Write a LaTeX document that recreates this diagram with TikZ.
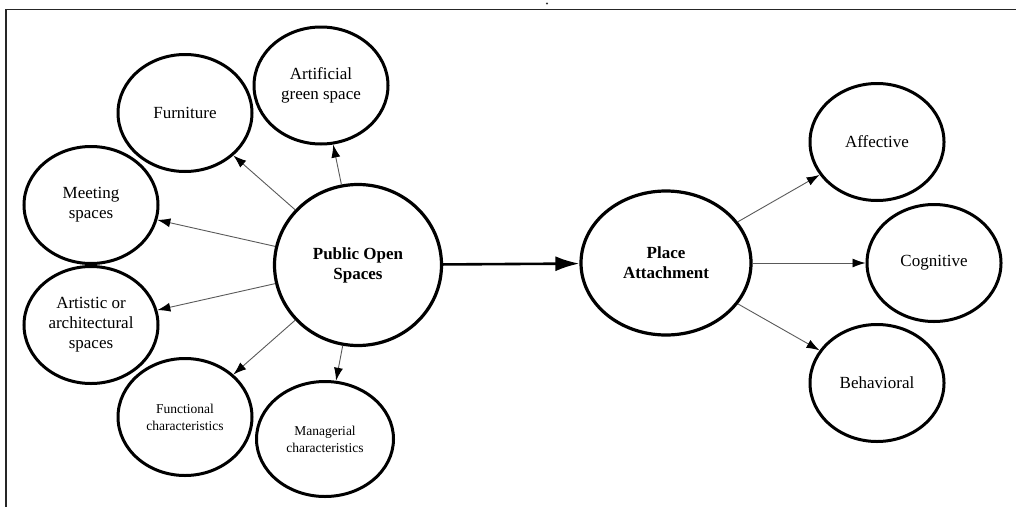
\documentclass[tikz,border=0pt]{standalone}
\usepackage{fontspec}
\setmainfont{Liberation Serif}
\usetikzlibrary{shapes.geometric,arrows.meta}

\tikzset{
  bubble/.style={ellipse, draw=black, line width=3pt, fill=white,
    minimum width=134pt, minimum height=117pt, inner sep=0pt, align=center,
    font=\fontsize{17}{20}\selectfont},
  smalltext/.style={font=\fontsize{13.5}{17}\selectfont},
  hub/.style={bubble, line width=3.2pt, font=\fontsize{17}{20}\selectfont\bfseries},
  link/.style={draw=black!65, line width=0.9pt,
    -{Latex[length=13pt,width=9pt,color=black]}},
  mainlink/.style={draw=black, line width=2.6pt,
    -{Latex[length=24pt,width=15pt,color=black]}},
  frameline/.style={draw=black!85, line width=1.6pt}
}

\begin{document}
\begin{tikzpicture}[x=1pt,y=-1pt]
  \useasboundingbox (0,0) rectangle (1016,506);

  % cropped page frame and stray mark
  \coordinate (fbl) at (6,510);
  \coordinate (ftl) at (6,9.5);
  \coordinate (ftr) at (1020,9.5);
  \draw[frameline] (fbl) -- (ftl) -- (ftr);
  \fill[black!80] (547,3.5) circle (1.1pt);

  % central constructs
  \node[hub, minimum width=167pt, minimum height=161pt] (pos) at (358,265) {Public Open\\Spaces};
  \node[hub, minimum width=170pt, minimum height=144pt] (pa) at (666,263) {Place\\Attachment};

  % components of public open spaces
  \node[bubble] (fur) at (185,113) {Furniture};
  \node[bubble] (green) at (321,85.5) {Artificial\\green space};
  \node[bubble] (meet) at (91,205) {Meeting\\spaces};
  \node[bubble] (art) at (91,325) {Artistic or\\architectural\\spaces};
  \node[bubble, smalltext] (func) at (185,417) {Functional\\characteristics};
  \node[bubble, smalltext, minimum width=137pt, minimum height=115pt] (man) at (325,439) {Managerial\\characteristics};

  % dimensions of place attachment
  \node[bubble] (aff) at (877,142) {Affective};
  \node[bubble] (cog) at (934,263) {Cognitive};
  \node[bubble] (beh) at (877,383) {Behavioral};

  % connectors
  \draw[link] (pos) -- (fur);
  \draw[link] (pos) -- (green);
  \draw[link] (pos) -- (meet);
  \draw[link] (pos) -- (art);
  \draw[link] (pos) -- (func);
  \draw[link] (pos) -- (man);
  \draw[mainlink] (pos) -- (pa);
  \draw[link] (pa) -- (aff);
  \draw[link] (pa) -- (cog);
  \draw[link] (pa) -- (beh);
\end{tikzpicture}
\end{document}
